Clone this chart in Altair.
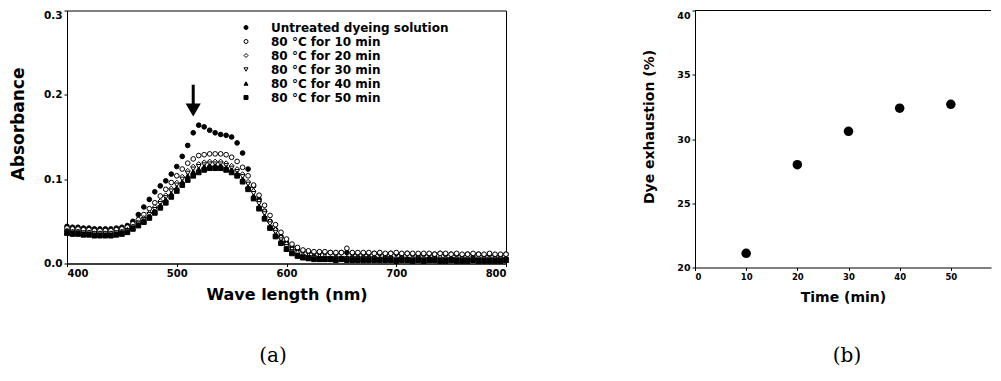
import altair as alt
import pandas as pd

# ---------------- data: panel (a) absorbance spectra ----------------
wavelengths = list(range(400, 805, 5))

series_names = [
    "Untreated dyeing solution",
    "80 °C for 10 min",
    "80 °C for 20 min",
    "80 °C for 30 min",
    "80 °C for 40 min",
    "80 °C for 50 min",
]

untreated = [
    0.044, 0.043, 0.043, 0.042, 0.042, 0.041, 0.041, 0.041, 0.041, 0.042, 0.043, 0.045,
    0.050, 0.058, 0.067, 0.076, 0.085, 0.092, 0.098, 0.106, 0.115, 0.127, 0.140, 0.155,
    0.164, 0.162, 0.158, 0.155, 0.153, 0.152, 0.150, 0.143, 0.131, 0.112, 0.092, 0.076,
    0.062, 0.050, 0.040, 0.032, 0.025, 0.020, 0.017, 0.015, 0.014,
    0.013, 0.013, 0.013, 0.013, 0.012, 0.013, 0.013, 0.012, 0.012, 0.012,
    0.012, 0.012, 0.012, 0.011, 0.012, 0.012, 0.011, 0.012, 0.011, 0.011,
    0.011, 0.011, 0.011, 0.012, 0.011, 0.011, 0.011, 0.010, 0.011, 0.011,
    0.011, 0.010, 0.011, 0.010, 0.010, 0.011,
]
min10 = [
    0.042, 0.041, 0.041, 0.040, 0.040, 0.039, 0.039, 0.039, 0.039, 0.040, 0.041, 0.043,
    0.047, 0.052, 0.058, 0.065, 0.072, 0.080, 0.088, 0.096, 0.104, 0.112, 0.119, 0.124,
    0.128, 0.129, 0.130, 0.130, 0.130, 0.129, 0.126, 0.121, 0.114, 0.104, 0.093, 0.081,
    0.069, 0.057, 0.046, 0.037, 0.029, 0.023, 0.019, 0.016, 0.015,
    0.014, 0.014, 0.014, 0.013, 0.013, 0.013, 0.018, 0.013, 0.013, 0.013,
    0.013, 0.012, 0.013, 0.012, 0.012, 0.013, 0.012, 0.012, 0.012, 0.012,
    0.012, 0.012, 0.011, 0.012, 0.012, 0.011, 0.012, 0.011, 0.011, 0.012,
    0.011, 0.011, 0.012, 0.011, 0.011, 0.011,
]
min20 = [
    0.039, 0.038, 0.038, 0.037, 0.037, 0.036, 0.036, 0.036, 0.036, 0.037, 0.038, 0.040,
    0.044, 0.049, 0.054, 0.060, 0.067, 0.074, 0.081, 0.089, 0.096, 0.103, 0.110, 0.115,
    0.118, 0.120, 0.121, 0.121, 0.121, 0.119, 0.116, 0.112, 0.106, 0.097, 0.086, 0.074,
    0.062, 0.050, 0.040, 0.031, 0.023, 0.017, 0.013, 0.010, 0.009,
    0.008, 0.008, 0.008, 0.007, 0.007, 0.007, 0.007, 0.007, 0.007, 0.007,
    0.007, 0.007, 0.006, 0.007, 0.007, 0.006, 0.007, 0.006, 0.006, 0.007,
    0.006, 0.006, 0.006, 0.007, 0.006, 0.006, 0.006, 0.006, 0.006, 0.006,
    0.006, 0.006, 0.005, 0.006, 0.006, 0.006,
]
min30 = [
    0.038, 0.037, 0.037, 0.036, 0.036, 0.035, 0.035, 0.035, 0.035, 0.036, 0.037, 0.039,
    0.043, 0.047, 0.052, 0.058, 0.064, 0.071, 0.078, 0.086, 0.093, 0.100, 0.107, 0.112,
    0.115, 0.117, 0.118, 0.118, 0.118, 0.116, 0.113, 0.109, 0.103, 0.094, 0.083, 0.071,
    0.059, 0.047, 0.037, 0.028, 0.020, 0.014, 0.010, 0.008, 0.007,
    0.007, 0.006, 0.006, 0.006, 0.006, 0.006, 0.006, 0.006, 0.006, 0.006,
    0.006, 0.006, 0.005, 0.006, 0.006, 0.005, 0.006, 0.005, 0.005, 0.006,
    0.005, 0.005, 0.006, 0.005, 0.005, 0.005, 0.005, 0.005, 0.005, 0.006,
    0.005, 0.005, 0.005, 0.005, 0.005, 0.005,
]
min40 = [
    0.037, 0.036, 0.036, 0.035, 0.035, 0.034, 0.034, 0.034, 0.034, 0.035, 0.036, 0.038,
    0.042, 0.046, 0.051, 0.056, 0.062, 0.069, 0.076, 0.083, 0.090, 0.097, 0.104, 0.109,
    0.112, 0.115, 0.116, 0.116, 0.116, 0.114, 0.111, 0.107, 0.100, 0.091, 0.080, 0.068,
    0.056, 0.044, 0.034, 0.026, 0.018, 0.013, 0.009, 0.007, 0.006,
    0.006, 0.005, 0.005, 0.005, 0.005, 0.005, 0.005, 0.005, 0.005, 0.005,
    0.005, 0.005, 0.004, 0.005, 0.005, 0.004, 0.005, 0.004, 0.004, 0.005,
    0.004, 0.004, 0.005, 0.004, 0.004, 0.004, 0.004, 0.004, 0.004, 0.005,
    0.004, 0.004, 0.004, 0.004, 0.004, 0.004,
]
min50 = [
    0.036, 0.035, 0.035, 0.034, 0.034, 0.033, 0.033, 0.033, 0.033, 0.034, 0.035, 0.037,
    0.041, 0.045, 0.049, 0.054, 0.060, 0.066, 0.072, 0.079, 0.086, 0.093, 0.099, 0.104,
    0.108, 0.111, 0.113, 0.113, 0.113, 0.111, 0.108, 0.104, 0.097, 0.088, 0.077, 0.065,
    0.053, 0.042, 0.032, 0.024, 0.017, 0.012, 0.009, 0.007, 0.006,
    0.005, 0.005, 0.005, 0.005, 0.004, 0.005, 0.004, 0.004, 0.004, 0.004,
    0.004, 0.004, 0.004, 0.004, 0.004, 0.003, 0.004, 0.004, 0.003, 0.004,
    0.003, 0.004, 0.004, 0.003, 0.003, 0.004, 0.003, 0.003, 0.003, 0.004,
    0.003, 0.003, 0.003, 0.003, 0.003, 0.004,
]
series_values = [untreated, min10, min20, min30, min40, min50]

# arrow annotation (data units)
arrow_x = [515]
arrow_top = [0.212]
arrow_bottom = [0.186]
arrow_head = [0.182]

# ---------------- data: panel (b) dye exhaustion ----------------
times = [10, 20, 30, 40, 50]
exhaustion = [21.1, 28.0, 30.6, 32.4, 32.7]
time_ticks = [0, 10, 20, 30, 40, 50]
time_visible_max = 57.85   # the panel is cut at the right edge of the picture

# ---------------- build tables ----------------
rows = []
for name, vals in zip(series_names, series_values):
    for w, v in zip(wavelengths, vals):
        rows.append({"wavelength": w, "absorbance": v, "series": name})
df_spec = pd.DataFrame(rows)
df_arrow = pd.DataFrame({"wavelength": arrow_x, "absorbance": arrow_top,
                         "absorbance2": arrow_bottom, "head": arrow_head})
df_exh = pd.DataFrame({"time": times, "exhaustion": exhaustion})

FONT = "DejaVu Sans"
SERIF = "DejaVu Serif"

legend = alt.Legend(
    title=None, orient="none", legendX=173, legendY=11,
    labelFont=FONT, labelFontWeight="bold", labelFontSize=12, labelColor="black",
    labelOffset=19, labelLimit=0, rowPadding=2, symbolSize=16,
    symbolStrokeColor="black", symbolStrokeWidth=1, padding=0,
)

x_a = alt.X("wavelength:Q", scale=alt.Scale(domain=[400, 800], nice=False),
            axis=alt.Axis(values=[400, 500, 600, 700, 800], title="Wave length (nm)",
                          titleFontSize=16, titlePadding=8, labelFontSize=10))
y_a = alt.Y("absorbance:Q", scale=alt.Scale(domain=[0, 0.3], nice=False),
            axis=alt.Axis(values=[0, 0.1, 0.2, 0.3], format=".1f", title="Absorbance",
                          titleFontSize=17, titlePadding=16, labelFontSize=10.5,
                          titleY=113,
                          labelBaseline={"condition": {"test": "datum.value >= 0.29",
                                                       "value": "top"},
                                         "value": "middle"}))

black6 = ["black"] * 6
points = alt.Chart(df_spec).mark_point(size=22, strokeWidth=1, opacity=1).encode(
    x=x_a, y=y_a,
    shape=alt.Shape("series:N", scale=alt.Scale(
        domain=series_names,
        range=["circle", "circle", "diamond", "triangle-down", "triangle-up", "square"]),
        legend=legend, sort=series_names),
    fill=alt.Fill("series:N", scale=alt.Scale(
        domain=series_names,
        range=["black", "white", "white", "white", "black", "black"]),
        legend=legend, sort=series_names),
    stroke=alt.Stroke("series:N", scale=alt.Scale(domain=series_names, range=black6),
                      legend=legend, sort=series_names),
)

shaft = alt.Chart(df_arrow).mark_rule(strokeWidth=3, color="black").encode(
    x="wavelength:Q", y="absorbance:Q", y2="absorbance2:Q")
head = alt.Chart(df_arrow).mark_point(shape="triangle-down", filled=True, color="black",
                                     size=230, opacity=1).encode(
    x="wavelength:Q", y=alt.Y("head:Q"))

label_a = alt.Chart(pd.DataFrame({"t": ["(a)"]})).mark_text(
    font=SERIF, fontSize=20, color="black").encode(
    x=alt.value(206), y=alt.value(345), text="t:N")

left = alt.layer(points, shaft, head, label_a).properties(width=439, height=253)

RIGHT_W = 296
x_b = alt.X("time:Q", scale=alt.Scale(domain=[0, time_visible_max], nice=False),
            axis=alt.Axis(values=time_ticks, title="Time (min)",
                          titleFontSize=14, titlePadding=9, labelFontSize=8.5))
y_b = alt.Y("exhaustion:Q", scale=alt.Scale(domain=[20, 40], nice=False),
            axis=alt.Axis(values=[20, 25, 30, 35, 40], title="Dye exhaustion (%)",
                          titleFontSize=14, titlePadding=20, labelFontSize=9.5,
                          titleY=116,
                          labelBaseline={"condition": {"test": "datum.value >= 39",
                                                       "value": "top"},
                                         "value": "middle"}))

dots = alt.Chart(df_exh).mark_point(filled=True, color="black", size=90, opacity=1,
                                   shape="circle").encode(x=x_b, y=y_b)
top_border = alt.Chart(pd.DataFrame({"t": [0]})).mark_rule(color="black", strokeWidth=1).encode(
    x=alt.value(0), x2=alt.value(RIGHT_W), y=alt.value(0))
label_b = alt.Chart(pd.DataFrame({"t": ["(b)"]})).mark_text(
    font=SERIF, fontSize=20, color="black").encode(
    x=alt.value(152), y=alt.value(345), text="t:N")

right = alt.layer(dots, top_border, label_b).properties(
    width=RIGHT_W, height=257, view=alt.ViewBackground(stroke=None))

chart = alt.hconcat(left, right, spacing=131).properties(
    padding={"left": 0, "top": 1.5, "right": 0, "bottom": 0}
).configure_view(stroke="black", strokeWidth=1).configure_axis(
    grid=False, domainColor="black", tickColor="black", tickSize=3,
    labelColor="black", titleColor="black", labelFont=FONT, titleFont=FONT,
    labelFontWeight="bold", titleFontWeight="bold", labelPadding=2,
)

chart.save("out.html", embed_options={"renderer": "svg", "actions": False})
